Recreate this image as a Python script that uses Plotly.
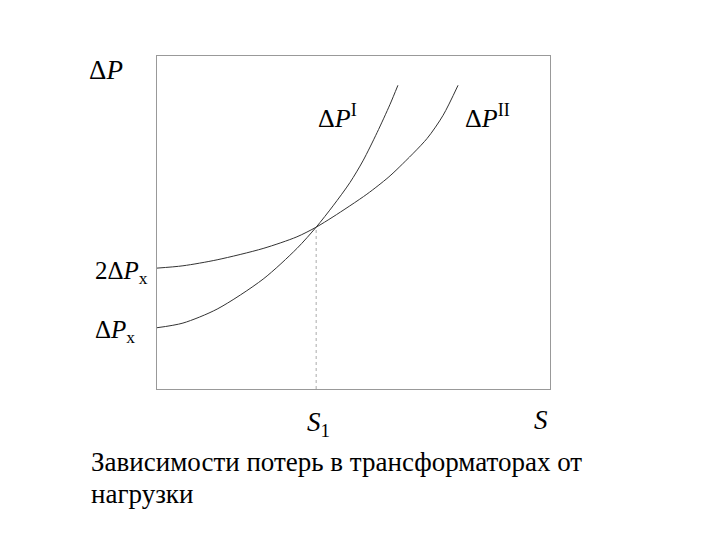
import plotly.graph_objects as go

# Data (arbitrary units: plot spans 0..10 on both axes)
s_curve1 = [0.00, 0.66, 1.53, 2.70, 3.56, 4.05, 4.48, 4.91, 5.24, 5.60, 5.93, 6.13]
p_curve1 = [1.84, 1.98, 2.40, 3.30, 4.22, 4.86, 5.50, 6.20, 6.85, 7.70, 8.55, 9.12]

s_curve2 = [0.00, 0.66, 1.53, 2.70, 3.56, 4.05, 4.48, 5.34, 5.88, 6.18, 6.87, 7.28, 7.66]
p_curve2 = [3.63, 3.70, 3.88, 4.22, 4.57, 4.86, 5.17, 5.85, 6.35, 6.68, 7.52, 8.22, 9.12]

s1_value = 4.05
p_cross = 4.86

FONT = "Liberation Serif, Times New Roman, serif"
OFF = 8  # default page body margin
L, R, T, B = 157, 550, 56, 389
W, H = 720, 540


def px(x):
    return (x - L) / (R - L)


def py(y):
    return (B - y) / (B - T)


fig = go.Figure()
fig.add_trace(go.Scatter(x=s_curve1, y=p_curve1, mode="lines",
                         line=dict(color="#333333", width=1, shape="spline", smoothing=0.8),
                         hoverinfo="skip"))
fig.add_trace(go.Scatter(x=s_curve2, y=p_curve2, mode="lines",
                         line=dict(color="#333333", width=1, shape="spline", smoothing=0.8),
                         hoverinfo="skip"))
fig.add_trace(go.Scatter(x=[s1_value, s1_value], y=[0, p_cross], mode="lines",
                         line=dict(color="#aaaaaa", width=1, dash="dot"),
                         hoverinfo="skip"))

annotations = [
    dict(text="Δ<i>P</i>", x=px(87), y=py(70), size=27),
    dict(text="Δ<i>P</i><sup>I</sup>", x=px(316), y=py(116), size=26),
    dict(text="Δ<i>P</i><sup>II</sup>", x=px(463), y=py(116), size=26),
    dict(text="2Δ<i>P</i><sub>x</sub>", x=px(93), y=py(272), size=25),
    dict(text="Δ<i>P</i><sub>x</sub>", x=px(93), y=py(331), size=25),
    dict(text="<i>S</i><sub>1</sub>", x=px(305), y=py(424), size=27),
    dict(text="<i>S</i>", x=px(532), y=py(420), size=27),
    dict(text="Зависимости потерь в трансформаторах от", x=px(89), y=py(462), size=27),
    dict(text="нагрузки", x=px(89), y=py(494), size=27),
]

fig.update_layout(
    width=W, height=H,
    margin=dict(l=L - OFF, r=W + OFF - R, t=T - OFF, b=H + OFF - B, pad=0),
    paper_bgcolor="white", plot_bgcolor="white",
    showlegend=False,
    xaxis=dict(range=[0, 10], showgrid=False, zeroline=False, showticklabels=False,
               ticks="", showline=True, mirror=True, linecolor="#999999", linewidth=1),
    yaxis=dict(range=[0, 10], showgrid=False, zeroline=False, showticklabels=False,
               ticks="", showline=True, mirror=True, linecolor="#999999", linewidth=1),
    annotations=[dict(text=a["text"], x=a["x"], y=a["y"], xref="paper", yref="paper",
                      xanchor="left", yanchor="middle", showarrow=False,
                      font=dict(family=FONT, size=a["size"], color="black"))
                 for a in annotations],
)

fig.write_html("out.html")
